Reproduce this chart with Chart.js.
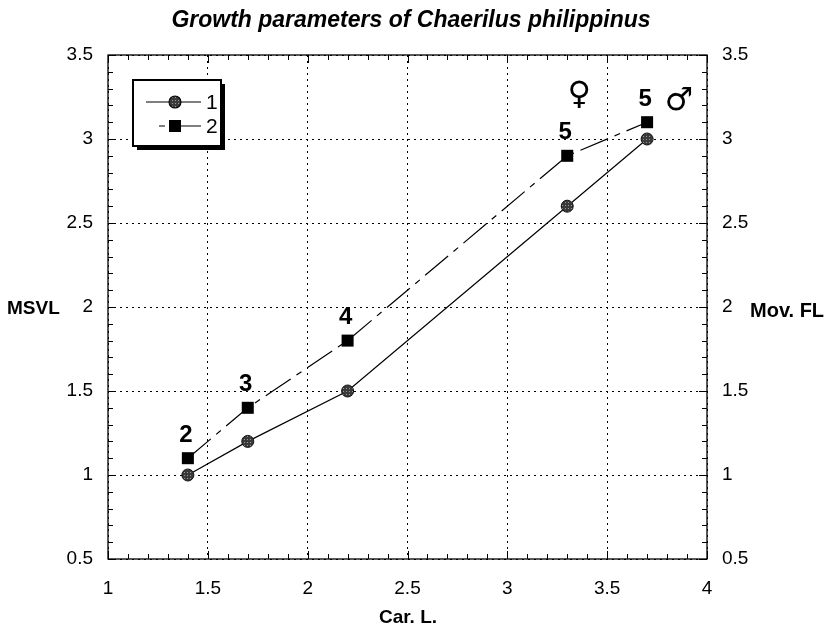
<!DOCTYPE html>
<html>
<head>
<meta charset="utf-8">
<script src="https://cdn.jsdelivr.net/npm/chart.js@4.4.0/dist/chart.umd.min.js"></script>
<style>
  html, body { margin: 0; padding: 0; background: #fff; }
  #wrap { width: 833px; height: 634px; }
</style>
</head>
<body>
<div id="wrap"><canvas id="c" width="833" height="634"></canvas></div>
<script>
// carapace length vs. two growth measures
const carL = [1.4, 1.7, 2.2, 3.3, 3.7];
const msvl = [1.0, 1.2, 1.5, 2.6, 3.0];
const movFL = [1.1, 1.4, 1.8, 2.9, 3.1];
const stageLabels = ['2', '3', '4', '5', '5'];
const seriesNames = ['1', '2'];
const sexMarks = [
  { text: '\u2640', x: 3.36, y: 3.26 },
  { text: '\u2642', x: 3.86, y: 3.22 }
];

const FONT = "'Liberation Sans', Arial, sans-serif";

// stippled grey fill for the round markers
function dotPattern() {
  const p = document.createElement('canvas');
  p.width = 3; p.height = 3;
  const g = p.getContext('2d');
  g.fillStyle = '#3a3a3a';
  g.fillRect(0, 0, 3, 3);
  g.fillStyle = '#9a9a9a';
  g.fillRect(1, 1, 1, 1);
  return g.createPattern(p, 'repeat');
}
const dotFill = dotPattern();

const toXY = (xs, ys) => xs.map((x, i) => ({ x: x, y: ys[i] }));
const plainNum = v => String(Math.round(v * 10) / 10);

// frame, inward ticks, texts and the boxed legend
const decor = {
  id: 'decor',
  afterDatasetsDraw(chart) {
    const { ctx, chartArea: a, scales } = chart;
    const xs = scales.x, ys = scales.y;
    ctx.save();
    ctx.strokeStyle = '#000';
    ctx.lineWidth = 1.3;
    ctx.setLineDash([]);
    ctx.strokeRect(a.left, a.top, a.right - a.left, a.bottom - a.top);

    ctx.lineWidth = 1;
    ctx.beginPath();
    for (let i = 0; i <= 30; i++) {
      const v = 1 + i * 0.1;
      const px = Math.round(xs.getPixelForValue(v)) + 0.5;
      const len = i % 5 === 0 ? 8 : 5;
      ctx.moveTo(px, a.bottom); ctx.lineTo(px, a.bottom - len);
      ctx.moveTo(px, a.top); ctx.lineTo(px, a.top + len);
    }
    for (let i = 0; i <= 30; i++) {
      const v = 0.5 + i * 0.1;
      const py = Math.round(ys.getPixelForValue(v)) + 0.5;
      const len = i % 5 === 0 ? 8 : 5;
      ctx.moveTo(a.left, py); ctx.lineTo(a.left + len, py);
      ctx.moveTo(a.right, py); ctx.lineTo(a.right - len, py);
    }
    ctx.stroke();

    // stage numbers above the squares
    const meta = chart.getDatasetMeta(1);
    ctx.fillStyle = '#000';
    ctx.textAlign = 'center';
    ctx.textBaseline = 'middle';
    ctx.font = 'bold 24px ' + FONT;
    meta.data.forEach((pt, i) => {
      ctx.fillText(stageLabels[i], pt.x - 2, pt.y - 23);
    });

    // sex symbols
    ctx.font = '32px "DejaVu Sans", sans-serif';
    sexMarks.forEach(m => {
      ctx.fillText(m.text, xs.getPixelForValue(m.x), ys.getPixelForValue(m.y));
    });

    // title and axis names
    ctx.font = 'italic bold 23px ' + FONT;
    ctx.fillText('Growth parameters of Chaerilus philippinus', 411, 21);
    ctx.font = 'bold 19px ' + FONT;
    ctx.fillText('Car. L.', 408, 618);
    ctx.textAlign = 'left';
    ctx.fillText('MSVL', 7, 309);
    ctx.font = 'bold 20px ' + FONT;
    ctx.fillText('Mov. FL', 750, 311);

    // legend box with drop shadow
    const bx = 133, by = 80, bw = 88, bh = 66;
    ctx.fillStyle = '#000';
    ctx.fillRect(bx + 4, by + 4, bw, bh);
    ctx.fillStyle = '#fff';
    ctx.fillRect(bx, by, bw, bh);
    ctx.lineWidth = 2;
    ctx.strokeRect(bx, by, bw, bh);

    const rows = [by + 22, by + 46];
    ctx.lineWidth = 1.1;
    ctx.beginPath();
    ctx.moveTo(bx + 13, rows[0]); ctx.lineTo(bx + 68, rows[0]);
    ctx.stroke();
    ctx.beginPath();
    ctx.setLineDash([6, 7, 30, 7]);
    ctx.moveTo(bx + 26, rows[1]); ctx.lineTo(bx + 68, rows[1]);
    ctx.stroke();
    ctx.setLineDash([]);
    ctx.beginPath();
    ctx.arc(bx + 42, rows[0], 6, 0, Math.PI * 2);
    ctx.fillStyle = dotFill;
    ctx.fill();
    ctx.stroke();
    ctx.fillStyle = '#000';
    ctx.fillRect(bx + 36, rows[1] - 6, 12, 12);
    ctx.font = '21px ' + FONT;
    ctx.textBaseline = 'middle';
    ctx.fillText(seriesNames[0], bx + 73, rows[0] + 1);
    ctx.fillText(seriesNames[1], bx + 73, rows[1] + 1);
    ctx.restore();
  }
};

const tickFont = { family: FONT, size: 19 };

new Chart(document.getElementById('c'), {
  type: 'scatter',
  data: {
    datasets: [
      {
        label: seriesNames[0],
        data: toXY(carL, msvl),
        showLine: true,
        borderColor: '#000',
        borderWidth: 1.2,
        pointStyle: 'circle',
        pointRadius: 6,
        pointBackgroundColor: dotFill,
        pointBorderColor: '#111',
        pointBorderWidth: 1
      },
      {
        label: seriesNames[1],
        data: toXY(carL, movFL),
        showLine: true,
        borderColor: '#000',
        borderWidth: 1.2,
        borderDash: [30, 7, 6, 7],
        pointStyle: 'rect',
        pointRadius: 8.5,
        pointBackgroundColor: '#000',
        pointBorderColor: '#000',
        pointBorderWidth: 0
      }
    ]
  },
  options: {
    responsive: false,
    animation: false,
    layout: { padding: { top: 55, left: 0, right: 0, bottom: 0 } },
    plugins: { legend: { display: false }, tooltip: { enabled: false }, title: { display: false } },
    scales: {
      x: {
        type: 'linear', position: 'bottom', min: 1, max: 4,
        ticks: { stepSize: 0.5, color: '#000', font: tickFont, padding: 18, maxRotation: 0, callback: plainNum },
        grid: { color: '#000', lineWidth: 1, drawTicks: false },
        border: { display: false, dash: [2, 4] },
        afterFit: s => { s.height = 75; }
      },
      y: {
        type: 'linear', position: 'left', min: 0.5, max: 3.5,
        ticks: { stepSize: 0.5, color: '#000', font: tickFont, padding: 15, callback: plainNum },
        grid: { color: '#000', lineWidth: 1, drawTicks: false },
        border: { display: false, dash: [2, 4] },
        afterFit: s => { s.width = 108; }
      },
      y2: {
        type: 'linear', position: 'right', min: 0.5, max: 3.5,
        ticks: { stepSize: 0.5, color: '#000', font: tickFont, padding: 15, callback: plainNum },
        grid: { drawOnChartArea: false, drawTicks: false },
        border: { display: false },
        afterFit: s => { s.width = 126; }
      }
    }
  },
  plugins: [decor]
});
</script>
</body>
</html>
